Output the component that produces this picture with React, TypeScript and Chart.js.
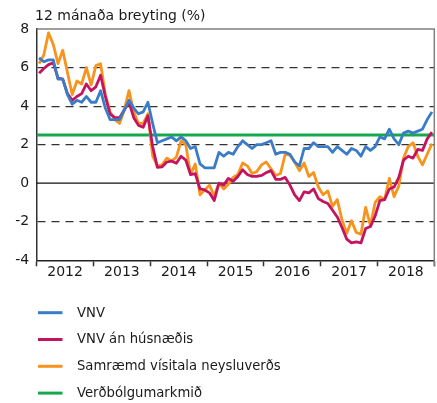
import React, { useEffect, useRef } from 'react';
import { Chart, registerables } from 'chart.js';

Chart.register(...registerables);

// ---- Data ----
const years = ['2012', '2013', '2014', '2015', '2016', '2017', '2018'];
const yTicks = [-4, -2, 0, 2, 4, 6, 8];
const chartTitle = '12 mánaða breyting (%)';

// VNV (monthly, Jan 2012 – Dec 2018)
const vnv = [
  6.5, 6.3, 6.4, 6.4, 5.4, 5.4, 4.6, 4.1, 4.3, 4.2, 4.5, 4.2,
  4.2, 4.8, 3.9, 3.3, 3.3, 3.3, 3.8, 4.3, 3.9, 3.6, 3.7, 4.2,
  3.1, 2.1, 2.2, 2.3, 2.4, 2.2, 2.4, 2.2, 1.8, 1.9, 1.0, 0.8,
  0.8, 0.8, 1.6, 1.4, 1.6, 1.5, 1.9, 2.2, 2.0, 1.8, 2.0, 2.0,
  2.1, 2.2, 1.5, 1.6, 1.6, 1.5, 1.1, 0.9, 1.8, 1.8, 2.1, 1.9,
  1.9, 1.9, 1.6, 1.9, 1.7, 1.5, 1.8, 1.7, 1.4, 1.9, 1.7, 1.9,
  2.4, 2.3, 2.8, 2.3, 2.0, 2.6, 2.7, 2.6, 2.7, 2.8, 3.3, 3.7,
];

// VNV án húsnæðis
const vnvAnHusnaedis = [
  5.7, 5.95, 6.15, 6.25, 5.45, 5.4, 4.65, 4.3, 4.5, 4.65, 5.15, 4.8,
  5.0, 5.6, 4.5, 3.6, 3.4, 3.4, 3.8, 4.2, 3.4, 3.0, 2.9, 3.5,
  1.9, 0.82, 0.85, 1.1, 1.15, 1.03, 1.4, 1.2, 0.45, 0.5, -0.3, -0.35,
  -0.5, -0.9, 0.0, -0.1, 0.25, 0.1, 0.35, 0.7, 0.45, 0.35, 0.35, 0.4,
  0.55, 0.65, 0.2, 0.2, 0.3, -0.1, -0.6, -0.9, -0.45, -0.5, -0.3, -0.8,
  -0.95, -1.05, -1.4, -1.75, -2.3, -2.9, -3.1, -3.05, -3.1, -2.35, -2.25, -1.7,
  -0.9, -0.85, -0.3, -0.2, 0.3, 1.2, 1.4, 1.3, 1.75, 1.7, 2.3, 2.65,
];

// Samræmd vísitala neysluverðs
const samraemd = [
  6.2, 6.65, 7.8, 7.2, 6.2, 6.9, 5.75, 4.6, 5.3, 5.15, 6.0, 5.1,
  6.1, 6.2, 4.6, 3.7, 3.3, 3.1, 3.8, 4.8, 3.7, 3.1, 3.1, 3.6,
  1.4, 0.9, 0.95, 1.3, 1.15, 1.35, 2.2, 2.0, 0.45, 1.0, -0.6, -0.35,
  -0.1, -0.65, 0.0, -0.3, -0.05, 0.3, 0.45, 1.05, 0.9, 0.5, 0.6, 0.95,
  1.1, 0.75, 0.4, 0.5, 1.5, 1.45, 1.1, 0.65, 1.05, 0.35, 0.55, -0.2,
  -0.6, -0.4, -1.2, -0.85, -1.9, -2.6, -1.95, -2.55, -2.65, -1.25, -2.2, -1.0,
  -0.7, -0.85, 0.25, -0.7, -0.15, 1.3, 1.9, 2.1, 1.4, 0.95, 1.5, 2.05,
];

// Verðbólgumarkmið (inflation target)
const verdbolgumarkmid = [2.5, 2.5];

const seriesLabels = ['VNV', 'VNV án húsnæðis', 'Samræmd vísitala neysluverðs', 'Verðbólgumarkmið'];
const seriesColors = ['#3b7cc6', '#c5145f', '#f7941d', '#15a84c'];

const FONT = '"DejaVu Sans", "Noto Sans", sans-serif';
const TEXT = '#1a1a1a';

export default function App() {
  const ref = useRef<HTMLCanvasElement>(null);

  useEffect(() => {
    const canvas = ref.current;
    if (!canvas) return;
    const nMonths = years.length * 12;
    const toPoints = (arr: number[]) => arr.map((v, i) => ({ x: i + 0.5, y: v }));

    const overlay = {
      id: 'overlay',
      beforeDatasetsDraw(chart: any) {
        const { ctx, chartArea: a, scales } = chart;
        const y0 = scales.y.getPixelForValue(0);
        ctx.save();
        ctx.strokeStyle = '#111';
        ctx.lineWidth = 1.3;
        ctx.beginPath();
        ctx.moveTo(a.left, y0);
        ctx.lineTo(a.right, y0);
        ctx.stroke();
        ctx.restore();
      },
      afterDraw(chart: any) {
        const { ctx, chartArea: a } = chart;
        ctx.save();
        // frame: top and right
        ctx.strokeStyle = '#808080';
        ctx.lineWidth = 1.5;
        ctx.beginPath();
        ctx.moveTo(a.left, a.top);
        ctx.lineTo(a.right, a.top);
        ctx.lineTo(a.right, a.bottom + 6);
        ctx.stroke();
        // title
        ctx.fillStyle = TEXT;
        ctx.font = `14px ${FONT}`;
        ctx.textAlign = 'left';
        ctx.textBaseline = 'alphabetic';
        ctx.fillText(chartTitle, 35, 19.5);
        // legend
        const rowY0 = 312.7;
        const rowStep = 26.8;
        ctx.font = `13.2px ${FONT}`;
        ctx.textBaseline = 'middle';
        chart.data.datasets.forEach((ds: any, i: number) => {
          const yy = rowY0 + i * rowStep;
          ctx.strokeStyle = ds.borderColor;
          ctx.lineWidth = 3;
          ctx.beginPath();
          ctx.moveTo(38, yy);
          ctx.lineTo(62.5, yy);
          ctx.stroke();
          ctx.fillStyle = TEXT;
          ctx.fillText(ds.label, 77, yy + 0.5);
        });
        ctx.restore();
      },
    };

    const lineStyle = (i: number, w: number) => ({
      label: seriesLabels[i],
      borderColor: seriesColors[i],
      backgroundColor: seriesColors[i],
      borderWidth: w,
      pointRadius: 0,
      tension: 0,
      fill: false,
      borderJoinStyle: 'round' as const,
    });

    const chart = new Chart(canvas, {
      type: 'line',
      data: {
        datasets: [
          { ...lineStyle(0, 2.8), data: toPoints(vnv) },
          { ...lineStyle(1, 2.8), data: toPoints(vnvAnHusnaedis) },
          { ...lineStyle(2, 2.8), data: toPoints(samraemd) },
          {
            ...lineStyle(3, 3.2),
            data: [
              { x: 0, y: verdbolgumarkmid[0] },
              { x: nMonths, y: verdbolgumarkmid[1] },
            ],
          },
        ],
      },
      options: {
        animation: false,
        responsive: false,
        events: [],
        layout: { padding: { top: 29, right: 2.7, left: 0, bottom: 0 } },
        plugins: {
          legend: { display: false },
          title: { display: false },
          tooltip: { enabled: false },
        },
        scales: {
          x: {
            type: 'linear',
            min: 0,
            max: nMonths,
            afterBuildTicks: (scale: any) => {
              const t: any[] = [];
              for (let v = 0; v <= nMonths; v += 6) t.push({ value: v });
              scale.ticks = t;
            },
            afterFit: (scale: any) => {
              scale.height = 403 - 260.3;
            },
            ticks: {
              autoSkip: false,
              maxRotation: 0,
              padding: -2,
              color: TEXT,
              font: { family: FONT, size: 14 },
              callback: (v: any) => (v % 12 === 6 ? years[(v - 6) / 12] : ''),
            },
            grid: {
              drawOnChartArea: false,
              drawTicks: true,
              tickLength: 6,
              tickWidth: 1.5,
              tickColor: (ctx: any) =>
                ctx.tick && ctx.tick.value % 12 === 0 ? '#333' : 'rgba(0,0,0,0)',
            },
            border: { display: true, color: '#222', width: 1.5 },
          },
          y: {
            type: 'linear',
            min: yTicks[0],
            max: yTicks[yTicks.length - 1],
            afterBuildTicks: (scale: any) => {
              scale.ticks = yTicks.map((v) => ({ value: v }));
            },
            afterFit: (scale: any) => {
              scale.width = 36.7;
            },
            ticks: {
              padding: 7.5,
              color: TEXT,
              font: { family: FONT, size: 14 },
              callback: (v: any) => String(v),
            },
            grid: {
              drawTicks: false,
              lineWidth: 1.2,
              color: (ctx: any) => {
                const v = ctx.tick ? ctx.tick.value : 0;
                return v === 0 || v === yTicks[0] || v === yTicks[yTicks.length - 1]
                  ? 'rgba(0,0,0,0)'
                  : '#333';
              },
            },
            border: { display: true, color: '#333', width: 1.5, dash: [8, 6] },
          },
        },
      },
      plugins: [overlay],
    } as any);

    return () => chart.destroy();
  }, []);

  return (
    <div style={{ position: 'absolute', left: 0, top: 0, width: 437, height: 403, background: '#fff' }}>
      <canvas ref={ref} width={437} height={403} style={{ display: 'block' }} />
    </div>
  );
}
